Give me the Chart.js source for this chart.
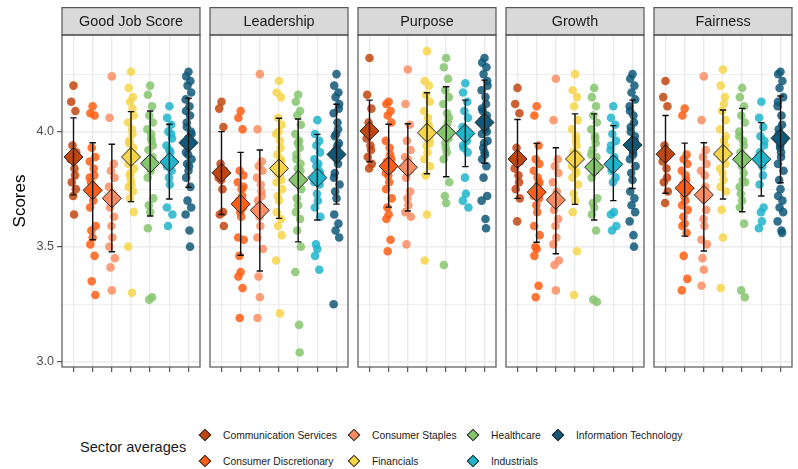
<!DOCTYPE html>
<html>
<head>
<meta charset="utf-8">
<script src="https://cdn.jsdelivr.net/npm/chart.js@4.4.0/dist/chart.umd.min.js"></script>
<style>
  body { margin: 0; background: #fff; font-family: "Liberation Sans", Arial, sans-serif; }
  #wrap { position: relative; width: 798px; height: 469px; overflow: hidden; }
  #wrap canvas { position: absolute; top: 7px; }
  .legend-title { position: absolute; left: 80px; top: 447px; transform: translateY(-50%); font-size: 14.6px; color: #1a1a1a; white-space: nowrap; }
  .key { position: absolute; width: 9px; height: 9px; box-sizing: border-box; border: 1px solid #262626; transform: translate(-50%, -50%) rotate(45deg); }
  .key-label { position: absolute; transform: translateY(-50%); font-size: 10.3px; color: #1a1a1a; white-space: nowrap; }
</style>
</head>
<body>
<div id="wrap">
  <canvas id="facet0" width="202" height="373" style="left:0px"></canvas>
  <canvas id="facet1" width="142" height="373" style="left:208px"></canvas>
  <canvas id="facet2" width="142" height="373" style="left:356px"></canvas>
  <canvas id="facet3" width="142" height="373" style="left:504px"></canvas>
  <canvas id="facet4" width="142" height="373" style="left:652px"></canvas>
  <div class="legend-title">Sector averages</div>
  <div id="legend"></div>
</div>
<script>
// sectors, in the order they sit along each facet
const sectors = ['Communication Services', 'Consumer Discretionary', 'Consumer Staples', 'Financials', 'Healthcare', 'Industrials', 'Information Technology'];
const sectorColors = ['#C2470F', '#FF5E14', '#FB8D63', '#F6D54A', '#86C56E', '#20B4CB', '#0F5878'];

const facetTitles = ['Good Job Score', 'Leadership', 'Purpose', 'Growth', 'Fairness'];
const yTicks = [3.0, 3.25, 3.5, 3.75, 4.0, 4.25];

// company scores per sector
const goodJobScores = [
  [4.20, 4.13, 4.09, 3.94, 3.91, 3.88, 3.84, 3.81, 3.78, 3.75, 3.72, 3.64],
  [4.11, 4.08, 4.07, 3.93, 3.89, 3.87, 3.84, 3.81, 3.78, 3.75, 3.73, 3.70, 3.67, 3.59, 3.57, 3.54, 3.51, 3.46, 3.35, 3.29, 3.80, 3.76],
  [4.24, 4.06, 3.86, 3.83, 3.80, 3.76, 3.73, 3.70, 3.67, 3.63, 3.59, 3.54, 3.50, 3.45, 3.41, 3.31],
  [4.26, 4.19, 4.15, 4.13, 4.07, 4.04, 4.01, 3.99, 3.96, 3.93, 3.91, 3.88, 3.86, 3.84, 3.81, 3.79, 3.76, 3.74, 3.71, 3.65, 3.50, 3.30, 4.10, 3.95, 3.90, 3.82, 3.77],
  [4.20, 4.16, 4.11, 4.07, 4.04, 4.01, 3.99, 3.96, 3.92, 3.89, 3.86, 3.83, 3.80, 3.71, 3.68, 3.65, 3.58, 3.28, 3.27, 3.94, 3.87, 3.97],
  [4.11, 4.06, 4.03, 4.00, 3.97, 3.94, 3.91, 3.88, 3.86, 3.83, 3.80, 3.77, 3.67, 3.64, 3.59, 3.92, 3.85, 3.99],
  [4.26, 4.24, 4.22, 4.20, 4.17, 4.14, 4.11, 4.07, 4.04, 4.00, 3.97, 3.94, 3.91, 3.88, 3.86, 3.83, 3.80, 3.76, 3.70, 3.67, 3.64, 3.57, 3.50, 4.02, 3.95, 3.90, 3.85, 4.09, 3.99]
];
const goodJobMeans = [3.89, 3.745, 3.71, 3.89, 3.862, 3.868, 3.952];
const goodJobLow = [3.725, 3.53, 3.478, 3.696, 3.633, 3.707, 3.758];
const goodJobHigh = [4.06, 3.952, 3.945, 4.087, 4.09, 4.032, 4.145];

const leadershipScores = [
  [4.13, 4.10, 4.02, 3.86, 3.83, 3.80, 3.75, 3.65, 3.64, 3.59, 3.79],
  [4.09, 4.06, 4.01, 3.83, 3.81, 3.78, 3.75, 3.72, 3.70, 3.67, 3.65, 3.63, 3.54, 3.53, 3.46, 3.39, 3.37, 3.32, 3.19, 3.76, 3.69],
  [4.25, 4.01, 3.87, 3.85, 3.83, 3.80, 3.77, 3.74, 3.70, 3.67, 3.63, 3.59, 3.54, 3.49, 3.37, 3.28, 3.19, 3.72],
  [4.22, 4.17, 4.15, 4.06, 4.03, 3.99, 3.96, 3.93, 3.90, 3.87, 3.84, 3.81, 3.78, 3.75, 3.72, 3.70, 3.65, 3.62, 3.59, 3.55, 3.44, 3.21, 3.88, 3.82, 3.79, 4.00],
  [4.16, 4.13, 4.09, 4.07, 4.03, 3.99, 3.96, 3.93, 3.90, 3.86, 3.84, 3.81, 3.78, 3.75, 3.71, 3.68, 3.65, 3.62, 3.57, 3.50, 3.39, 3.16, 3.04, 3.88, 3.83, 3.95],
  [4.05, 3.99, 3.96, 3.94, 3.91, 3.88, 3.86, 3.83, 3.80, 3.77, 3.73, 3.70, 3.67, 3.63, 3.51, 3.49, 3.46, 3.40, 3.85, 3.82, 3.78],
  [4.25, 4.20, 4.17, 4.15, 4.12, 4.08, 4.04, 4.01, 3.98, 3.95, 3.92, 3.89, 3.80, 3.77, 3.74, 3.71, 3.64, 3.60, 3.57, 3.54, 3.25, 3.94, 3.86, 3.82, 4.10, 3.99]
];
const leadershipMeans = [3.821, 3.685, 3.658, 3.84, 3.79, 3.80, 3.901];
const leadershipLow = [3.64, 3.463, 3.394, 3.623, 3.521, 3.616, 3.685];
const leadershipHigh = [4.0, 3.91, 3.92, 4.058, 4.055, 3.988, 4.119];

const purposeScores = [
  [4.32, 4.16, 4.10, 4.04, 4.00, 3.97, 3.94, 3.92, 3.89, 3.86, 3.84],
  [4.13, 4.12, 4.09, 4.07, 4.04, 3.96, 3.93, 3.90, 3.87, 3.84, 3.81, 3.78, 3.75, 3.71, 3.67, 3.64, 3.62, 3.53, 3.48, 3.88, 3.82],
  [4.27, 4.12, 4.03, 3.96, 3.92, 3.89, 3.86, 3.83, 3.80, 3.74, 3.71, 3.68, 3.65, 3.63, 3.51, 3.88],
  [4.35, 4.22, 4.20, 4.16, 4.13, 4.09, 4.06, 4.03, 4.00, 3.97, 3.94, 3.91, 3.88, 3.85, 3.81, 3.64, 3.44, 4.02, 3.98, 3.95],
  [4.32, 4.28, 4.23, 4.18, 4.15, 4.12, 4.08, 4.04, 4.01, 3.97, 3.93, 3.91, 3.88, 3.78, 3.72, 3.69, 3.42, 4.00, 3.95, 4.06, 3.99],
  [4.21, 4.17, 4.13, 4.09, 4.06, 4.02, 3.99, 3.96, 3.93, 3.91, 3.80, 3.73, 3.70, 3.67, 3.98, 4.00, 3.94],
  [4.32, 4.30, 4.28, 4.25, 4.22, 4.18, 4.15, 4.12, 4.09, 4.07, 4.04, 4.01, 3.99, 3.96, 3.93, 3.91, 3.88, 3.85, 3.80, 3.72, 3.70, 3.62, 3.58, 4.05, 4.00, 3.95, 3.90, 4.10, 4.20]
];
const purposeMeans = [4.003, 3.85, 3.845, 3.995, 3.995, 3.992, 4.04];
const purposeLow = [3.869, 3.672, 3.655, 3.817, 3.804, 3.848, 3.862];
const purposeHigh = [4.137, 4.032, 4.034, 4.169, 4.195, 4.137, 4.224];

const growthScores = [
  [4.19, 4.12, 4.08, 3.93, 3.87, 3.84, 3.81, 3.78, 3.75, 3.71, 3.61],
  [4.11, 4.07, 3.94, 3.88, 3.86, 3.83, 3.80, 3.77, 3.74, 3.71, 3.68, 3.65, 3.59, 3.55, 3.50, 3.49, 3.46, 3.33, 3.28, 3.78, 3.72],
  [4.23, 4.05, 3.88, 3.85, 3.82, 3.78, 3.74, 3.70, 3.66, 3.62, 3.59, 3.54, 3.51, 3.44, 3.42, 3.31],
  [4.25, 4.18, 4.15, 4.11, 4.05, 4.01, 3.98, 3.94, 3.91, 3.88, 3.86, 3.83, 3.80, 3.77, 3.73, 3.70, 3.65, 3.48, 3.29, 3.90, 3.85, 3.96, 3.82],
  [4.19, 4.15, 4.11, 4.07, 4.04, 4.01, 3.98, 3.95, 3.92, 3.89, 3.86, 3.83, 3.80, 3.71, 3.69, 3.67, 3.64, 3.57, 3.27, 3.26, 3.90, 3.97, 3.85],
  [4.11, 4.06, 4.03, 3.99, 3.96, 3.92, 3.89, 3.86, 3.83, 3.80, 3.78, 3.65, 3.64, 3.59, 3.57, 3.88, 3.94],
  [4.25, 4.23, 4.20, 4.17, 4.14, 4.11, 4.07, 4.04, 4.00, 3.96, 3.93, 3.91, 3.88, 3.85, 3.82, 3.79, 3.74, 3.71, 3.68, 3.65, 3.61, 3.55, 3.50, 4.02, 3.98, 3.94, 3.90, 4.09]
];
const growthMeans = [3.881, 3.737, 3.703, 3.881, 3.846, 3.858, 3.942];
const growthLow = [3.71, 3.519, 3.469, 3.684, 3.616, 3.70, 3.753];
const growthHigh = [4.053, 3.949, 3.93, 4.077, 4.077, 4.026, 4.137];

const fairnessScores = [
  [4.22, 4.15, 4.11, 3.94, 3.90, 3.87, 3.84, 3.80, 3.78, 3.74, 3.69],
  [4.10, 4.07, 3.90, 3.88, 3.86, 3.83, 3.81, 3.79, 3.77, 3.74, 3.72, 3.70, 3.68, 3.66, 3.63, 3.60, 3.59, 3.56, 3.46, 3.36, 3.31],
  [4.24, 4.05, 3.92, 3.89, 3.86, 3.83, 3.81, 3.76, 3.73, 3.66, 3.62, 3.59, 3.53, 3.51, 3.45, 3.40, 3.33],
  [4.27, 4.20, 4.15, 4.09, 4.05, 4.01, 3.96, 3.92, 3.89, 3.86, 3.82, 3.79, 3.76, 3.74, 3.66, 3.54, 3.32, 3.94, 3.90, 3.98, 3.84, 4.12],
  [4.19, 4.15, 4.11, 4.07, 4.04, 4.00, 3.96, 3.94, 3.91, 3.88, 3.85, 3.79, 3.76, 3.78, 3.73, 3.70, 3.67, 3.60, 3.31, 3.28, 3.98, 3.89, 3.82],
  [4.13, 4.06, 4.02, 3.98, 3.94, 3.89, 3.85, 3.81, 3.77, 3.67, 3.65, 3.61, 3.58, 3.96, 3.91, 3.87],
  [4.26, 4.25, 4.22, 4.19, 4.15, 4.11, 4.07, 4.03, 3.99, 3.96, 3.93, 3.89, 3.86, 3.83, 3.79, 3.75, 3.72, 3.70, 3.67, 3.65, 3.61, 3.57, 3.56, 4.01, 3.97, 3.94, 3.91, 4.13]
];
const fairnessMeans = [3.902, 3.754, 3.725, 3.903, 3.88, 3.88, 3.971];
const fairnessLow = [3.732, 3.546, 3.481, 3.707, 3.652, 3.72, 3.778];
const fairnessHigh = [4.07, 3.95, 3.952, 4.094, 4.101, 4.039, 4.155];

// horizontal spread of the company dots around each sector position
const jitterPattern = [0, -0.12, 0.1, -0.05, 0.14, -0.15, 0.05, 0.08, -0.09, 0.12, -0.02, 0.03, -0.13, 0.16, -0.07];

const facets = [
  { scores: goodJobScores, means: goodJobMeans, low: goodJobLow, high: goodJobHigh },
  { scores: leadershipScores, means: leadershipMeans, low: leadershipLow, high: leadershipHigh },
  { scores: purposeScores, means: purposeMeans, low: purposeLow, high: purposeHigh },
  { scores: growthScores, means: growthMeans, low: growthLow, high: growthHigh },
  { scores: fairnessScores, means: fairnessMeans, low: fairnessLow, high: fairnessHigh }
];

function fade(hex, alpha) {
  const n = parseInt(hex.slice(1), 16);
  return `rgba(${(n >> 16) & 255}, ${(n >> 8) & 255}, ${n & 255}, ${alpha})`;
}

function isMajor(v) {
  return Math.abs(v * 2 - Math.round(v * 2)) < 1e-6;
}

// grey strip on top, error bars and the panel frame
const facetDecor = {
  id: 'facetDecor',
  afterDatasetsDraw(chart, args, opts) {
    const { ctx, scales } = chart;
    ctx.save();
    ctx.strokeStyle = '#111';
    ctx.lineWidth = 1.4;
    opts.means.forEach((m, i) => {
      const x = scales.x.getPixelForValue(i + 1);
      const yTop = scales.y.getPixelForValue(opts.high[i]);
      const yBot = scales.y.getPixelForValue(opts.low[i]);
      ctx.beginPath();
      ctx.moveTo(x, yTop); ctx.lineTo(x, yBot);
      ctx.moveTo(x - 3.2, yTop); ctx.lineTo(x + 3.2, yTop);
      ctx.moveTo(x - 3.2, yBot); ctx.lineTo(x + 3.2, yBot);
      ctx.stroke();
    });
    ctx.restore();
  },
  afterDraw(chart, args, opts) {
    const { ctx, chartArea } = chart;
    const w = chartArea.right - chartArea.left;
    ctx.save();
    ctx.fillStyle = '#D9D9D9';
    ctx.strokeStyle = '#555';
    ctx.lineWidth = 1.2;
    ctx.fillRect(chartArea.left, 0.5, w, chartArea.top - 0.5);
    ctx.strokeRect(chartArea.left, 0.6, w, chartArea.top - 0.6);
    ctx.strokeRect(chartArea.left, chartArea.top, w, chartArea.bottom - chartArea.top);
    ctx.fillStyle = '#1a1a1a';
    ctx.font = '14.4px "Liberation Sans", Arial, sans-serif';
    ctx.textAlign = 'center';
    ctx.textBaseline = 'middle';
    ctx.fillText(opts.title, chartArea.left + w / 2, chartArea.top / 2 + 1);
    ctx.restore();
  }
};

function createFacet(index) {
  const facet = facets[index];
  const first = index === 0;

  const datasets = [{
    label: 'Sector averages',
    data: facet.means.map((m, i) => ({ x: i + 1, y: m })),
    pointStyle: 'rectRot',
    pointRadius: 9.5,
    backgroundColor: sectorColors,
    borderColor: '#262626',
    borderWidth: 1,
    order: 0
  }];

  facet.scores.forEach((vals, s) => {
    datasets.push({
      label: sectors[s],
      data: vals.map((v, j) => ({ x: s + 1 + jitterPattern[j % jitterPattern.length], y: v })),
      pointRadius: 4.3,
      backgroundColor: fade(sectorColors[s], 0.85),
      borderWidth: 0,
      order: 1
    });
  });

  new Chart(document.getElementById('facet' + index), {
    type: 'scatter',
    data: { datasets: datasets },
    options: {
      responsive: false,
      animation: false,
      devicePixelRatio: 1,
      layout: { autoPadding: false, padding: { top: 28, left: first ? 0 : 2, right: 2, bottom: 0 } },
      plugins: {
        legend: { display: false },
        tooltip: { enabled: false },
        facetDecor: {
          title: facetTitles[index],
          means: facet.means,
          low: facet.low,
          high: facet.high
        }
      },
      scales: {
        x: {
          type: 'linear',
          min: 0.4,
          max: 7.6,
          afterBuildTicks: scale => { scale.ticks = [1, 2, 3, 4, 5, 6, 7].map(v => ({ value: v })); },
          afterFit: scale => { scale.height = 13; },
          ticks: { callback: () => '', autoSkip: false },
          grid: { color: '#EBEBEB', lineWidth: 1.4, tickLength: 5, tickColor: '#333', tickWidth: 1 },
          border: { display: false }
        },
        y: {
          min: 2.977,
          max: 4.42,
          afterBuildTicks: scale => { scale.ticks = yTicks.map(v => ({ value: v })); },
          afterFit: scale => { scale.width = first ? 62 : 0; },
          ticks: {
            display: first,
            autoSkip: false,
            padding: 3,
            color: '#4d4d4d',
            font: { size: 12.6, family: '"Liberation Sans", Arial, sans-serif' },
            callback: v => isMajor(v) ? v.toFixed(1) : ''
          },
          grid: {
            color: '#EBEBEB',
            lineWidth: ctx => isMajor(ctx.tick.value) ? 1.4 : 0.8,
            drawTicks: first,
            tickLength: 5,
            tickWidth: 1,
            tickColor: ctx => isMajor(ctx.tick.value) ? '#333' : 'rgba(0,0,0,0)'
          },
          border: { display: false },
          title: {
            display: first,
            text: 'Scores',
            color: '#000',
            font: { size: 17, family: '"Liberation Sans", Arial, sans-serif' },
            padding: { top: 10, bottom: 0 }
          }
        }
      }
    },
    plugins: [facetDecor]
  });
}

facetTitles.forEach((t, i) => createFacet(i));

// legend: two rows, filled column by column
const legendSlots = [
  { x: 205, y: 435 }, { x: 205, y: 461 },
  { x: 354, y: 435 }, { x: 354, y: 461 },
  { x: 473, y: 435 }, { x: 473, y: 461 },
  { x: 558, y: 435 }
];
const legend = document.getElementById('legend');
sectors.forEach((name, i) => {
  const slot = legendSlots[i];
  const key = document.createElement('div');
  key.className = 'key';
  key.style.left = slot.x + 'px';
  key.style.top = slot.y + 'px';
  key.style.background = sectorColors[i];
  legend.appendChild(key);
  const label = document.createElement('div');
  label.className = 'key-label';
  label.style.left = (slot.x + 18) + 'px';
  label.style.top = slot.y + 'px';
  label.textContent = name;
  legend.appendChild(label);
});
</script>
</body>
</html>
